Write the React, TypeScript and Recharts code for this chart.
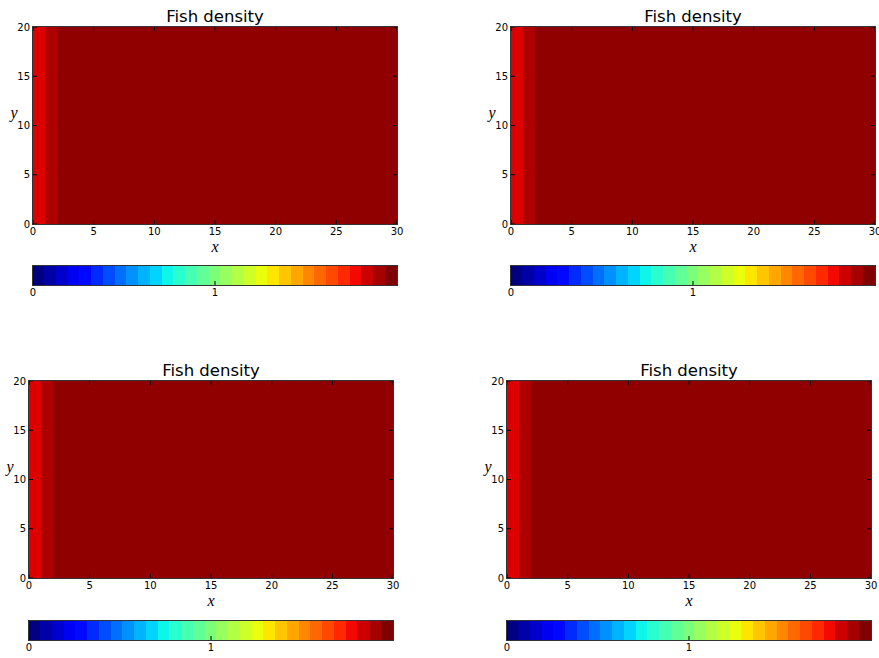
import React from 'react';
import { BarChart, Bar, Cell, XAxis, YAxis } from 'recharts';

// grid cells along x (cell centres) and the fish density in each column
const X_CELLS = [
  0.5, 1.5, 2.5, 3.5, 4.5, 5.5, 6.5, 7.5, 8.5, 9.5,
  10.5, 11.5, 12.5, 13.5, 14.5, 15.5, 16.5, 17.5, 18.5, 19.5,
  20.5, 21.5, 22.5, 23.5, 24.5, 25.5, 26.5, 27.5, 28.5, 29.5,
];
const DENSITY = [
  1.84, 1.92, 1.97, 1.97, 1.97, 1.97, 1.97, 1.97, 1.97, 1.97,
  1.97, 1.97, 1.97, 1.97, 1.97, 1.97, 1.97, 1.97, 1.97, 1.97,
  1.97, 1.97, 1.97, 1.97, 1.97, 1.97, 1.97, 1.97, 1.97, 1.97,
];
const Y_SPAN = 20;
const X_TICKS = [0, 5, 10, 15, 20, 25, 30];
const Y_TICKS = [0, 5, 10, 15, 20];

// colorbar: centres of the 31 contour levels, 0..2
const CBAR_LEVELS = [
  0.0323, 0.0968, 0.1613, 0.2258, 0.2903, 0.3548, 0.4194, 0.4839, 0.5484, 0.6129,
  0.6774, 0.7419, 0.8065, 0.871, 0.9355, 1.0, 1.0645, 1.129, 1.1935, 1.2581,
  1.3226, 1.3871, 1.4516, 1.5161, 1.5806, 1.6452, 1.7097, 1.7742, 1.8387, 1.9032,
  1.9677,
];
const CBAR_MAX = 2;
const CBAR_TICKS = [0, 1];

const TITLES = ['Fish density', 'Fish density', 'Fish density', 'Fish density'];

const PW = 364;
const PH = 197;
const CH = 19;
const PANELS = [
  { left: 33, top: 27, cbTop: 266 },
  { left: 511, top: 27, cbTop: 266 },
  { left: 29, top: 381, cbTop: 621 },
  { left: 507, top: 381, cbTop: 621 },
];

const FONT = '"DejaVu Sans", sans-serif';

const RED = [[0, 0], [0.35, 0], [0.66, 1], [0.89, 1], [1, 0.5]];
const GREEN = [[0, 0], [0.125, 0], [0.375, 1], [0.64, 1], [0.91, 0], [1, 0]];
const BLUE = [[0, 0.5], [0.11, 1], [0.34, 1], [0.65, 0], [1, 0]];

function seg(pts: number[][], t: number) {
  for (let i = 1; i < pts.length; i++) {
    if (t <= pts[i][0]) {
      const [x0, y0] = pts[i - 1];
      const [x1, y1] = pts[i];
      return y0 + ((y1 - y0) * (t - x0)) / (x1 - x0);
    }
  }
  return pts[pts.length - 1][1];
}

function jet(t: number) {
  const c = Math.max(0, Math.min(1, t));
  const h = (v: number) => Math.round(v * 255).toString(16).padStart(2, '0');
  return '#' + h(seg(RED, c)) + h(seg(GREEN, c)) + h(seg(BLUE, c));
}

const fieldData = X_CELLS.map((x, i) => ({ x, y: Y_SPAN, d: DENSITY[i] }));
const cbarData = CBAR_LEVELS.map((v, i) => ({ v, h: 1, i }));

function XTick({ x, y, payload, span, top }: any) {
  return (
    <g>
      <line x1={x} x2={x} y1={y} y2={y - 4} stroke="#000" />
      {top && <line x1={x} x2={x} y1={y - span} y2={y - span + 4} stroke="#000" />}
      <text x={x} y={y + 11} textAnchor="middle" fontSize={10} fontFamily={FONT} fill="#000">
        {payload.value}
      </text>
    </g>
  );
}

function YTick({ x, y, payload }: any) {
  return (
    <g>
      <line x1={x} x2={x + 4} y1={y} y2={y} stroke="#000" />
      <line x1={x + PW} x2={x + PW - 4} y1={y} y2={y} stroke="#000" />
      <text x={x - 3} y={y + 3.5} textAnchor="end" fontSize={10} fontFamily={FONT} fill="#000">
        {payload.value}
      </text>
    </g>
  );
}

function Panel({ left, top, cbTop }: { left: number; top: number; cbTop: number }) {
  return (
    <>
      <div style={{ position: 'absolute', left: left - 30, top: top - 6 }}>
        <BarChart
          width={30 + PW + 6}
          height={6 + PH + 24}
          data={fieldData}
          margin={{ top: 6, right: 6, bottom: 0, left: 0 }}
          barCategoryGap={0}
          barGap={0}
        >
          <XAxis
            dataKey="x"
            type="number"
            domain={[0, 30]}
            ticks={X_TICKS}
            interval={0}
            height={24}
            axisLine={false}
            tickLine={false}
            tickSize={0}
            tickMargin={0}
            tick={<XTick span={PH} top />}
          />
          <YAxis
            type="number"
            domain={[0, Y_SPAN]}
            ticks={Y_TICKS}
            interval={0}
            width={30}
            axisLine={false}
            tickLine={false}
            tickSize={0}
            tickMargin={0}
            tick={<YTick />}
          />
          <Bar dataKey="y" barSize={PW / X_CELLS.length - 0.05} isAnimationActive={false}>
            {fieldData.map((p, i) => (
              <Cell
                key={i}
                fill={jet(p.d / CBAR_MAX)}
                stroke={jet(p.d / CBAR_MAX)}
                strokeWidth={1}
                shapeRendering="crispEdges"
              />
            ))}
          </Bar>
        </BarChart>
      </div>
      <div style={{ position: 'absolute', left: left - 4, top: cbTop - 4 }}>
        <BarChart
          width={PW + 8}
          height={4 + CH + 16}
          data={cbarData}
          margin={{ top: 4, right: 4, bottom: 0, left: 4 }}
          barCategoryGap={0}
          barGap={0}
        >
          <XAxis
            dataKey="v"
            type="number"
            domain={[0, CBAR_MAX]}
            ticks={CBAR_TICKS}
            interval={0}
            height={16}
            axisLine={false}
            tickLine={false}
            tickSize={0}
            tickMargin={0}
            tick={<XTick span={CH} />}
          />
          <YAxis type="number" domain={[0, 1]} hide />
          <Bar dataKey="h" barSize={PW / CBAR_LEVELS.length - 0.05} isAnimationActive={false}>
            {cbarData.map((p) => {
              const c = jet(p.i / (CBAR_LEVELS.length - 1));
              return <Cell key={p.i} fill={c} stroke={c} strokeWidth={1} shapeRendering="crispEdges" />;
            })}
          </Bar>
        </BarChart>
      </div>
    </>
  );
}

export default function App() {
  return (
    <div style={{ position: 'absolute', left: 0, top: 0, width: 879, height: 658, background: '#fff', overflow: 'hidden' }}>
      {PANELS.map((p, i) => (
        <Panel key={i} {...p} />
      ))}
      <svg width={879} height={658} style={{ position: 'absolute', left: 0, top: 0, pointerEvents: 'none' }}>
        {PANELS.map((p, i) => (
          <g key={i}>
            <rect x={p.left - 0.5} y={p.top - 0.5} width={PW + 1} height={PH + 1} fill="none" stroke="#333" />
            <rect x={p.left - 0.5} y={p.cbTop - 0.5} width={PW + 1} height={CH + 1} fill="none" stroke="#333" />
            <text x={p.left + PW / 2} y={p.top - 5} textAnchor="middle" fontSize={16.5} fontFamily={FONT} fill="#000">
              {TITLES[i]}
            </text>
            <text x={p.left + PW / 2} y={p.top + PH + 28} textAnchor="middle" fontSize={16} fontStyle="italic" fontFamily='"Liberation Serif", serif' fill="#000">
              x
            </text>
            <text x={p.left - 19} y={p.top + 90.5} textAnchor="middle" fontSize={16} fontStyle="italic" fontFamily='"Liberation Serif", serif' fill="#000">
              y
            </text>
          </g>
        ))}
      </svg>
    </div>
  );
}
